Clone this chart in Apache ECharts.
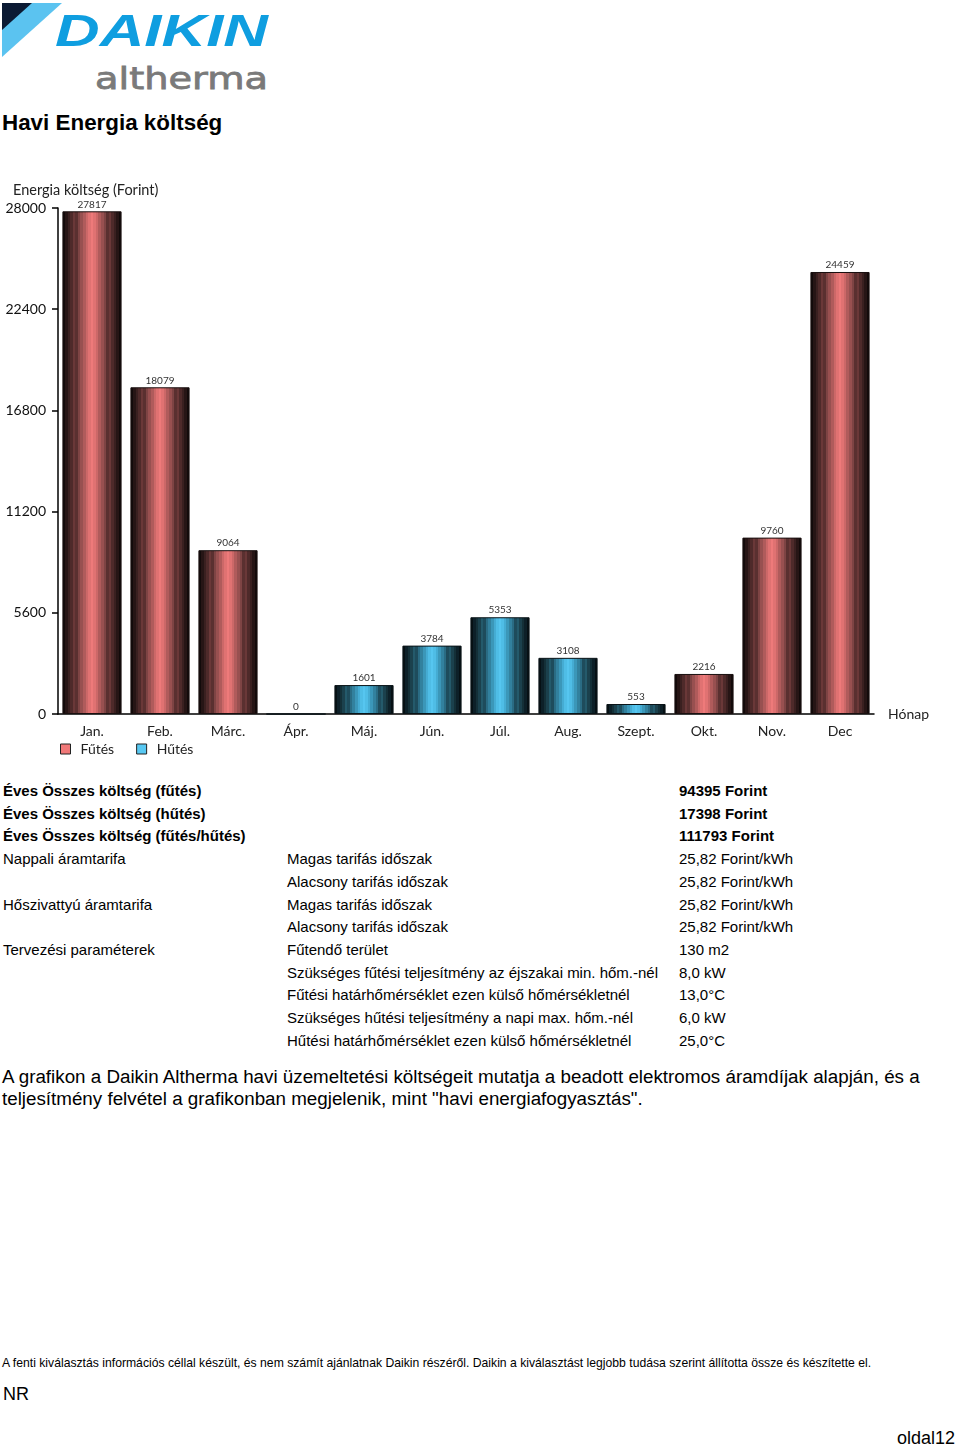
<!DOCTYPE html>
<html>
<head>
<meta charset="utf-8">
<script src="https://cdn.jsdelivr.net/npm/echarts@6/dist/echarts.min.js"></script>
<style>
  html,body{margin:0;padding:0;background:#fff;}
  body{width:960px;height:1447px;position:relative;overflow:hidden;font-family:"Liberation Sans",Arial,sans-serif;color:#000;}
  .abs{position:absolute;white-space:nowrap;}
  #chart{position:absolute;left:0;top:170px;width:960px;height:600px;}
  .row{position:absolute;font-size:15px;line-height:18px;}
  .b{font-weight:bold;}
</style>
</head>
<body>
<svg class="abs" style="left:0;top:0" width="300" height="100">
  <polygon points="2,3 62,3 2,57" fill="#5bc3f0"/>
  <polygon points="2,3 32,3 2,30" fill="#0b1a33"/>
  <text x="55" y="46" font-family="Liberation Sans, Arial" font-weight="bold" font-style="italic" font-size="45" fill="#0f9ee0" textLength="213" lengthAdjust="spacingAndGlyphs">DAIKIN</text>
  <text x="95" y="89" font-family="DejaVu Sans" font-size="31" fill="#7a7a7a" stroke="#7a7a7a" stroke-width="0.8" textLength="173" lengthAdjust="spacingAndGlyphs">altherma</text>
</svg>
<div class="abs b" style="left:2px;top:110px;font-size:22.4px;">Havi Energia költség</div>
<div id="chart"></div>

<div id="table"></div>

<div class="abs" style="left:2px;top:1066px;font-size:18.8px;line-height:22px;">A grafikon a Daikin Altherma havi üzemeltetési költségeit mutatja a beadott elektromos áramdíjak alapján, és a<br>teljesítmény felvétel a grafikonban megjelenik, mint "havi energiafogyasztás".</div>
<div class="abs" style="left:2px;top:1356px;font-size:12.2px;">A fenti kiválasztás információs céllal készült, és nem számít ajánlatnak Daikin részéről. Daikin a kiválasztást legjobb tudása szerint állította össze és készítette el.</div>
<div class="abs" style="left:3px;top:1384px;font-size:18px;">NR</div>
<div class="abs" style="left:897px;top:1428px;font-size:18px;">oldal12</div>

<script>
// ---- data ----
var months = ['Jan.','Feb.','Márc.','Ápr.','Máj.','Jún.','Júl.','Aug.','Szept.','Okt.','Nov.','Dec'];
var heating = [27817, 18079, 9064, null, null, null, null, null, null, 2216, 9760, 24459];
var cooling = [null, null, null, 0, 1601, 3784, 5353, 3108, 553, null, null, null];
var yTicks = [0, 5600, 11200, 16800, 22400, 28000];
var seriesNames = ['Fűtés', 'Hűtés'];
var yAxisTitle = 'Energia költség (Forint)';
var xAxisTitle = 'Hónap';

var tableCol1 = ['Éves Összes költség (fűtés)','Éves Összes költség (hűtés)','Éves Összes költség (fűtés/hűtés)','Nappali áramtarifa','','Hőszivattyú áramtarifa','','Tervezési paraméterek','','','',''];
var tableCol2 = ['','','','Magas tarifás időszak','Alacsony tarifás időszak','Magas tarifás időszak','Alacsony tarifás időszak','Fűtendő terület','Szükséges fűtési teljesítmény az éjszakai min. hőm.-nél','Fűtési határhőmérséklet ezen külső hőmérsékletnél','Szükséges hűtési teljesítmény a napi max. hőm.-nél','Hűtési határhőmérséklet ezen külső hőmérsékletnél'];
var tableCol3 = ['94395 Forint','17398 Forint','111793 Forint','25,82 Forint/kWh','25,82 Forint/kWh','25,82 Forint/kWh','25,82 Forint/kWh','130 m2','8,0 kW','13,0°C','6,0 kW','25,0°C'];

// ---- table ----
(function(){
  var t = document.getElementById('table'), html = '';
  for (var i = 0; i < tableCol1.length; i++) {
    var top = 782 + i * 22.7;
    var cls = i < 3 ? 'row b' : 'row';
    html += '<div class="'+cls+'" style="left:3px;top:'+top+'px">'+tableCol1[i]+'</div>';
    html += '<div class="'+cls+'" style="left:287px;top:'+top+'px">'+tableCol2[i]+'</div>';
    html += '<div class="'+cls+'" style="left:679px;top:'+top+'px">'+tableCol3[i]+'</div>';
  }
  t.innerHTML = html;
})();

// ---- chart ----
function stripes(cols){
  var seq = cols.concat(cols.slice(0, cols.length-1).reverse());
  var n = seq.length, stops = [];
  for (var i = 0; i < n; i++) {
    stops.push({offset: i/n, color: seq[i]});
    stops.push({offset: (i+1)/n, color: seq[i]});
  }
  return new echarts.graphic.LinearGradient(0,0,1,0,stops);
}
var redGrad = stripes(['#120a0a','#261515','#3a2020','#4e2a2a','#6a3838','#5a3030','#7e4444','#985050','#b05b5b','#cc6868','#e07272','#ee7a7a']);
var blueGrad = stripes(['#061014','#0d2028','#143038','#1b414d','#245a6b','#1e4c5c','#2a6c84','#32819e','#3b97b9','#45acd3','#4fbde6','#56c6f0']);

var chart = echarts.init(document.getElementById('chart'), null, {renderer:'canvas'});
var fontFam = 'Lato, "Noto Sans", sans-serif';
chart.setOption({
  animation:false,
  textStyle:{fontFamily:fontFam},
  title:{text:yAxisTitle,left:8,top:8,textStyle:{fontSize:14.5,fontWeight:'normal',color:'#222',fontFamily:fontFam}},
  grid:{left:58,right:86,top:38,bottom:56,containLabel:false},
  legend:{
    left:55, top:567, itemWidth:10, itemHeight:10, itemGap:22,
    textStyle:{fontSize:14,color:'#222',fontFamily:fontFam,padding:[0,0,0,5]},
    data:[
      {name:seriesNames[0], icon:'rect', itemStyle:{color:'#f07878',borderColor:'#222',borderWidth:1}},
      {name:seriesNames[1], icon:'rect', itemStyle:{color:'#58c8f2',borderColor:'#222',borderWidth:1}}
    ]
  },
  xAxis:{
    type:'category', data:months,
    name:xAxisTitle, nameLocation:'end', nameGap:14,
    nameTextStyle:{fontSize:14,color:'#222',fontFamily:fontFam},
    axisLine:{lineStyle:{color:'#000',width:1.5}},
    axisTick:{alignWithLabel:true,length:6,lineStyle:{color:'#000',width:1.5}},
    axisLabel:{fontSize:14,color:'#222',margin:10,fontFamily:fontFam}
  },
  yAxis:{
    type:'value', min:yTicks[0], max:yTicks[yTicks.length-1], interval:yTicks[1]-yTicks[0],
    axisLine:{show:true,lineStyle:{color:'#000',width:1.5}},
    axisTick:{show:true,length:6,lineStyle:{color:'#000',width:1.5}},
    splitLine:{show:false},
    axisLabel:{fontSize:14,color:'#111',margin:12,fontFamily:fontFam,formatter:function(v){return String(v);}}
  },
  series:[
    {name:seriesNames[0], type:'bar', stack:'s', data:heating, barWidth:'87%',
     itemStyle:{color:redGrad,borderColor:'#1a1010',borderWidth:1},
     label:{show:true,position:'top',fontSize:10,color:'#333',distance:2,fontFamily:fontFam}},
    {name:seriesNames[1], type:'bar', stack:'s', data:cooling, barWidth:'87%',
     itemStyle:{color:blueGrad,borderColor:'#0a1418',borderWidth:1},
     label:{show:true,position:'top',fontSize:10,color:'#333',distance:2,fontFamily:fontFam}}
  ]
});
</script>
</body>
</html>
